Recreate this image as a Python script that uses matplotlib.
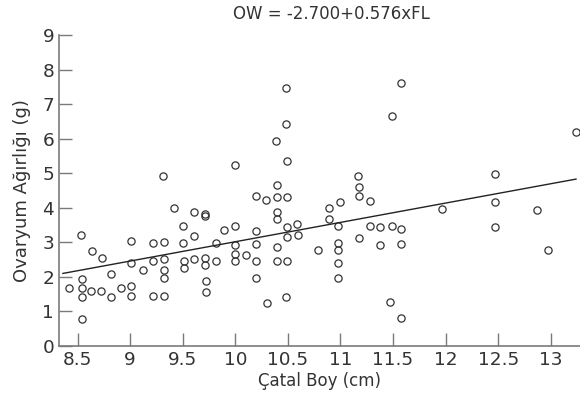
import matplotlib
matplotlib.use("Agg")
import matplotlib.pyplot as plt

# Data
fork_length = [8.42, 8.53, 8.54, 8.54, 8.54, 8.54, 8.63, 8.64, 8.72, 8.73,
               8.82, 8.82, 8.91, 9.01, 9.01, 9.01, 9.01, 9.12, 9.22, 9.22,
               9.22, 9.31, 9.32, 9.32, 9.32, 9.32, 9.32, 9.42, 9.50, 9.50,
               9.51, 9.51, 9.61, 9.61, 9.61, 9.71, 9.71, 9.71, 9.71, 9.72,
               9.72, 9.82, 9.82, 9.89, 10.00, 10.00, 10.00, 10.00, 10.00, 10.10,
               10.20, 10.20, 10.20, 10.20, 10.20, 10.29, 10.30, 10.39, 10.40, 10.40,
               10.40, 10.40, 10.40, 10.40, 10.48, 10.48, 10.49, 10.49, 10.49, 10.49,
               10.49, 10.48, 10.59, 10.60, 10.79, 10.89, 10.89, 10.98, 10.98, 10.98,
               10.98, 10.98, 11.00, 11.17, 11.18, 11.18, 11.18, 11.28, 11.28, 11.38,
               11.38, 11.47, 11.49, 11.49, 11.58, 11.58, 11.58, 11.58, 11.97, 12.47,
               12.47, 12.47, 12.87, 12.97, 13.24]
ovary_weight = [1.67, 3.21, 1.94, 1.67, 1.43, 0.79, 1.59, 2.76, 1.59, 2.56,
                2.07, 1.43, 1.67, 3.05, 2.39, 1.74, 1.44, 2.19, 2.99, 2.46,
                1.44, 4.91, 3.00, 2.53, 2.20, 1.98, 1.44, 3.98, 3.47, 2.99,
                2.47, 2.26, 3.89, 3.17, 2.53, 3.83, 3.75, 2.54, 2.35, 1.88,
                1.56, 2.99, 2.45, 3.36, 5.25, 3.47, 2.91, 2.66, 2.45, 2.63,
                4.33, 3.34, 2.96, 2.46, 1.96, 4.23, 1.24, 5.94, 4.67, 4.32,
                3.89, 3.67, 2.86, 2.45, 7.46, 6.41, 5.35, 4.32, 3.44, 3.14,
                2.46, 1.43, 3.53, 3.20, 2.79, 3.99, 3.67, 3.47, 2.99, 2.79,
                2.40, 1.98, 4.17, 4.93, 4.61, 4.34, 3.13, 4.21, 3.47, 3.45,
                2.92, 1.26, 6.66, 3.46, 7.62, 3.38, 2.94, 0.81, 3.97, 4.98,
                4.17, 3.43, 3.95, 2.79, 6.18]

fit_x = [8.36, 13.24]
fit_y = [2.10, 4.83]

x_ticks = [8.5, 9, 9.5, 10, 10.5, 11, 11.5, 12, 12.5, 13]
x_tick_labels = ["8.5", "9", "9.5", "10", "10.5", "11", "11.5", "12", "12.5", "13"]
y_ticks = [0, 1, 2, 3, 4, 5, 6, 7, 8, 9]

title_text = "OW = -2.700+0.576xFL"
x_label = "Çatal Boy (cm)"
y_label = "Ovaryum Ağırlığı (g)"

plt.rcParams['font.family'] = ['DejaVu Sans']
text_color = '#333333'
axis_color = '#7a7a7a'

fig = plt.figure(figsize=(5.8, 4.07), dpi=100)
ax = fig.add_axes([59.3 / 580, 1 - 346 / 407, (580 - 59.3) / 580, (346 - 35) / 407])

ax.plot(fork_length, ovary_weight, linestyle='none', marker='o', ms=5.2,
        mfc='none', mec='#333333', mew=0.9, clip_on=False)
ax.plot(fit_x, fit_y, color='#222222', lw=1.0)

ax.set_xlim(8.326, 13.278)
ax.set_ylim(0, 9)
ax.set_xticks(x_ticks)
ax.set_xticklabels(x_tick_labels)
ax.set_yticks(y_ticks)

for side in ['top', 'right']:
    ax.spines[side].set_visible(False)
for side in ['left', 'bottom']:
    ax.spines[side].set_color(axis_color)
    ax.spines[side].set_linewidth(1.2)

ax.tick_params(axis='both', direction='in', length=9.6, width=1.0, color=axis_color,
               labelsize=13.3, labelcolor=text_color)
ax.tick_params(axis='y', pad=3.7)
ax.tick_params(axis='x', pad=3.5)

ax.set_xlabel(x_label, fontsize=12, color=text_color, labelpad=2)
ax.set_ylabel(y_label, fontsize=13, color=text_color, labelpad=8)
fig.text(331 / 580, 1 - 14 / 407, title_text, ha='center', va='center',
         fontsize=12, color=text_color)

fig.savefig("out.png", dpi=100)
